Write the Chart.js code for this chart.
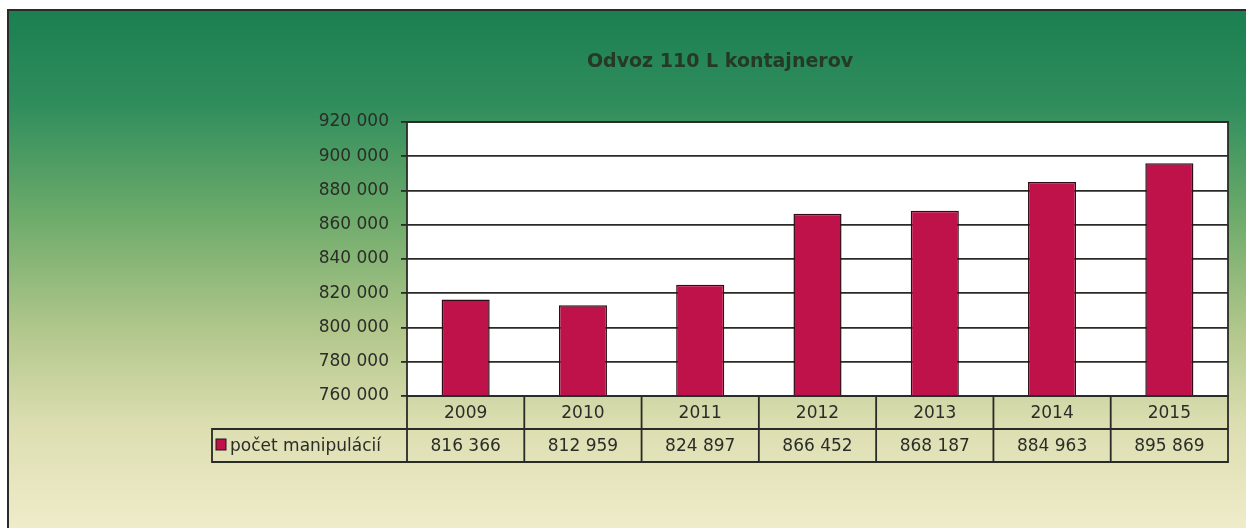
<!DOCTYPE html>
<html>
<head>
<meta charset="utf-8">
<script src="https://cdn.jsdelivr.net/npm/chart.js@4"></script>
<style>
  html, body { margin: 0; padding: 0; background: #fff; }
  #wrap { width: 1255px; height: 532px; }
</style>
</head>
<body>
<div id="wrap"><canvas id="myChart" width="1255" height="532"></canvas></div>
<script>
const title = 'Odvoz 110 L kontajnerov'
const seriesName = 'počet manipulácií'
const years = ['2009', '2010', '2011', '2012', '2013', '2014', '2015']
const counts = [816366, 812959, 824897, 866452, 868187, 884963, 895869]
const yMin = 760000
const yMax = 920000
const yStep = 20000

const barColor = '#bf124b'
const lineColor = '#2a2a26'
const textColor = '#2c2c28'
const font = '"DejaVu Sans", sans-serif'

const fmt = v => String(v).replace(/\B(?=(\d{3})+(?!\d))/g, ' ')

// background gradient, white plot area, title
const backdrop = {
  id: 'backdrop',
  beforeDraw(chart) {
    const { ctx, chartArea } = chart
    const g = ctx.createLinearGradient(0, 10, 0, 528)
    g.addColorStop(0, '#1b7f51')
    g.addColorStop(0.18, '#2f8d5c')
    g.addColorStop(0.4, '#6dab6b')
    g.addColorStop(0.62, '#b2c78b')
    g.addColorStop(0.8, '#dcdeb1')
    g.addColorStop(1, '#efecca')
    ctx.save()
    ctx.fillStyle = '#ffffff'
    ctx.fillRect(0, 0, chart.width, chart.height)
    ctx.fillStyle = g
    ctx.fillRect(8, 10, 1238, 518)
    ctx.strokeStyle = '#2b2b2b'
    ctx.lineWidth = 2
    ctx.beginPath()
    ctx.moveTo(8, 528)
    ctx.lineTo(8, 10)
    ctx.lineTo(1246, 10)
    ctx.stroke()
    ctx.fillStyle = '#ffffff'
    ctx.fillRect(chartArea.left, chartArea.top, chartArea.right - chartArea.left, chartArea.bottom - chartArea.top)
    // title centred over table + plot
    ctx.fillStyle = '#263826'
    ctx.font = 'bold 19px ' + font
    ctx.textAlign = 'center'
    ctx.textBaseline = 'middle'
    ctx.fillText(title, (212 + chartArea.right) / 2, 62)
    ctx.restore()
  },
  afterDraw(chart) {
    const { ctx, chartArea } = chart
    const x = chart.scales.x
    const n = years.length
    const colW = (chartArea.right - chartArea.left) / n
    const top = chartArea.bottom
    const rowH = 33
    const legLeft = 212
    ctx.save()
    ctx.strokeStyle = lineColor
    ctx.lineWidth = 1.8
    // plot frame
    ctx.strokeRect(chartArea.left, chartArea.top, chartArea.right - chartArea.left, chartArea.bottom - chartArea.top)
    // table outlines
    ctx.beginPath()
    ctx.moveTo(chartArea.left, top + rowH)
    ctx.lineTo(chartArea.left, top)
    ctx.lineTo(chartArea.right, top)
    ctx.lineTo(chartArea.right, top + 2 * rowH)
    ctx.lineTo(legLeft, top + 2 * rowH)
    ctx.lineTo(legLeft, top + rowH)
    ctx.lineTo(chartArea.right, top + rowH)
    for (let i = 0; i <= n; i++) {
      const cx = chartArea.left + i * colW
      ctx.moveTo(cx, top)
      ctx.lineTo(cx, top + 2 * rowH)
    }
    ctx.stroke()
    ctx.fillStyle = textColor
    ctx.font = '17px ' + font
    ctx.textAlign = 'center'
    ctx.textBaseline = 'middle'
    years.forEach((y, i) => {
      const cx = x.getPixelForValue(i)
      ctx.fillText(y, cx, top + rowH / 2 + 1)
      ctx.fillText(fmt(counts[i]), cx, top + rowH * 1.5 + 1)
    })
    // legend key
    ctx.fillStyle = barColor
    ctx.fillRect(legLeft + 4, top + rowH + 10, 10, 11)
    ctx.strokeStyle = '#2a1018'
    ctx.lineWidth = 1
    ctx.strokeRect(legLeft + 4, top + rowH + 10, 10, 11)
    ctx.fillStyle = textColor
    ctx.textAlign = 'left'
    ctx.fillText(seriesName, legLeft + 18, top + rowH * 1.5 + 1)
    ctx.restore()
  }
}

new Chart(document.getElementById('myChart'), {
  type: 'bar',
  data: {
    labels: years,
    datasets: [{
      label: seriesName,
      data: counts,
      backgroundColor: barColor,
      borderColor: '#2e0c18',
      borderWidth: 1.5,
      barPercentage: 0.41,
      categoryPercentage: 1
    }]
  },
  options: {
    responsive: false,
    animation: false,
    layout: { padding: { top: 122, right: 27, bottom: 136, left: 0 } },
    plugins: {
      legend: { display: false },
      title: { display: false },
      tooltip: { enabled: false }
    },
    scales: {
      x: { display: false },
      y: {
        min: yMin,
        max: yMax,
        afterFit(scale) { scale.width = 407 },
        ticks: {
          stepSize: yStep,
          color: textColor,
          font: { family: font, size: 17 },
          padding: 12,
          callback: v => fmt(v)
        },
        grid: { color: lineColor, lineWidth: 1.8, tickLength: 6, drawTicks: true },
        border: { display: false }
      }
    }
  },
  plugins: [backdrop]
})
</script>
</body>
</html>
